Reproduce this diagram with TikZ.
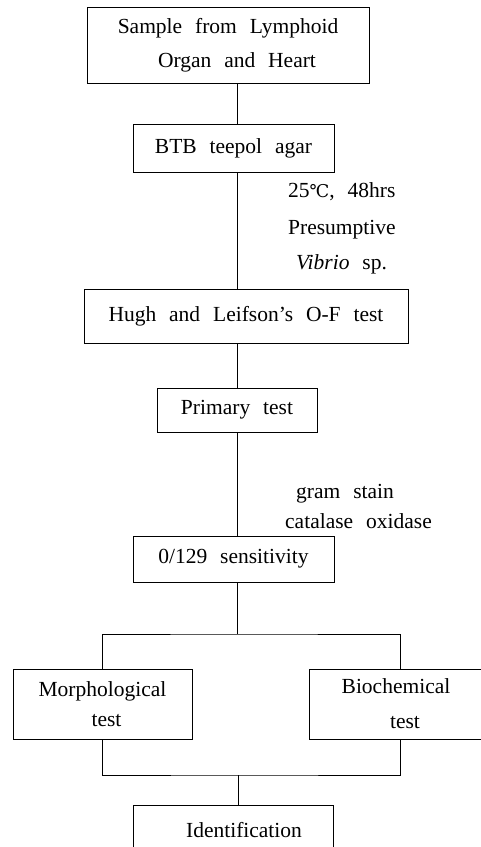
\documentclass[tikz,border=0pt]{standalone}
\usepackage{fontspec}
\setmainfont{Liberation Serif}[WordSpace=2.4]
\newfontfamily\symfont{DejaVu Serif}[Scale=0.82]
\tikzset{
  box/.style={draw, line width=0.9pt, inner sep=0pt, align=center},
  side/.style={anchor=base west, inner sep=0pt},
  link/.style={line width=0.9pt}
}
\begin{document}
\fontsize{21.5}{34}\selectfont
\begin{tikzpicture}[x=1pt,y=-1pt]
\path[use as bounding box] (0,0) rectangle (481,847);
\clip (0,0) rectangle (481,847);
\coordinate (spine) at (237,0);
\coordinate (bx) at (400,0);

\node[box, minimum width=282pt, minimum height=76pt] (sample) at (228,45) {Sample from Lymphoid\\\hspace*{18pt}Organ and Heart};
\node[box, minimum width=201pt, minimum height=48pt] (btb) at (233.5,148) {BTB teepol agar};
\node[box, minimum width=324pt, minimum height=54pt] (hugh) at (246,316) {Hugh and Leifson’s O-F test};
\node[box, minimum width=160pt, minimum height=44pt] (primary) at (237,410) {Primary test};
\node[box, minimum width=201pt, minimum height=46pt] (sens) at (233.5,559) {0/129 sensitivity};
\node[box, minimum width=179pt, minimum height=70pt] (morph) at (102.5,704) {Morphological\\[-4pt]\hspace*{8pt}test};
\node[box, minimum width=174pt, minimum height=70pt] (bio) at (396,704) {Biochemical\\[1pt]\hspace*{18pt}test};
\node[box, minimum width=200pt, minimum height=50pt] (ident) at (233,830) {\hspace*{22pt}Identification};

\node[side] (cond) at (288,197) {25{\symfont ℃}, 48hrs};
\node[side] (pres) at (288,234) {Presumptive};
\node[side] (vib) at (296,269) {\textit{Vibrio} sp.};
\node[side] (gram) at (296,498) {gram stain};
\node[side] (cat) at (285,528) {catalase oxidase};

\draw[link] (sample.south -| spine) -- (btb.north -| spine);
\draw[link] (btb.south -| spine) -- (hugh.north -| spine);
\draw[link] (hugh.south -| spine) -- (primary.north -| spine);
\draw[link] (primary.south -| spine) -- (sens.north -| spine);
\coordinate (split) at (237,634);
\draw[link] (sens.south -| spine) -- (split);
\draw[link] (morph.north) |- (split) -| (bio.north -| bx);
\coordinate (merge) at (238,775);
\draw[link] (morph.south) |- (merge) -| (bio.south -| bx);
\draw[link] (merge) -- (ident.north -| merge);
\end{tikzpicture}
\end{document}
